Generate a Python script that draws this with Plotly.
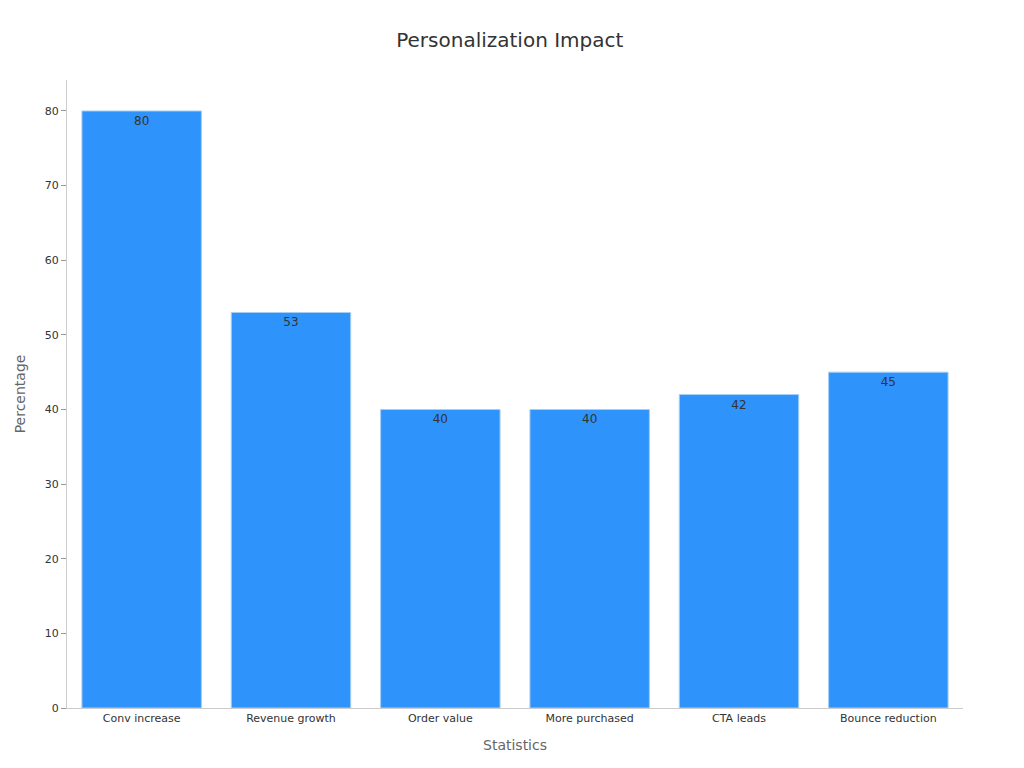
import plotly.graph_objects as go

categories = ["Conv increase", "Revenue growth", "Order value", "More purchased", "CTA leads", "Bounce reduction"]
values = [80, 53, 40, 40, 42, 45]

fig = go.Figure()
fig.add_trace(go.Bar(
    x=categories,
    y=values,
    text=values,
    textposition="inside",
    insidetextanchor="end",
    textfont=dict(color="#333333", size=12),
    marker=dict(color="#2E93FA", line=dict(color="#a8cdf5", width=1)),
))

fig.update_layout(
    title=dict(text="Personalization Impact", x=0.49, xanchor="center", y=0.967,
               font=dict(size=20, color="#333333")),
    font=dict(family="DejaVu Sans", size=11, color="#333333"),
    paper_bgcolor="white",
    plot_bgcolor="white",
    width=1024, height=768,
    margin=dict(l=52, r=69, t=72, b=68),
    bargap=0.2,
    showlegend=False,
)
fig.update_xaxes(
    title=dict(text="Statistics", font=dict(size=14, color="#666666")),
    showline=True, linecolor="#cccccc", showgrid=False,
)
fig.update_yaxes(
    title=dict(text="Percentage", font=dict(size=14, color="#666666")),
    range=[0, 84.15], dtick=10, showline=True, linecolor="#cccccc",
    ticks="outside", tickcolor="#999999", ticklen=5, showgrid=False, zeroline=False,
)

fig.write_html("out.html")
